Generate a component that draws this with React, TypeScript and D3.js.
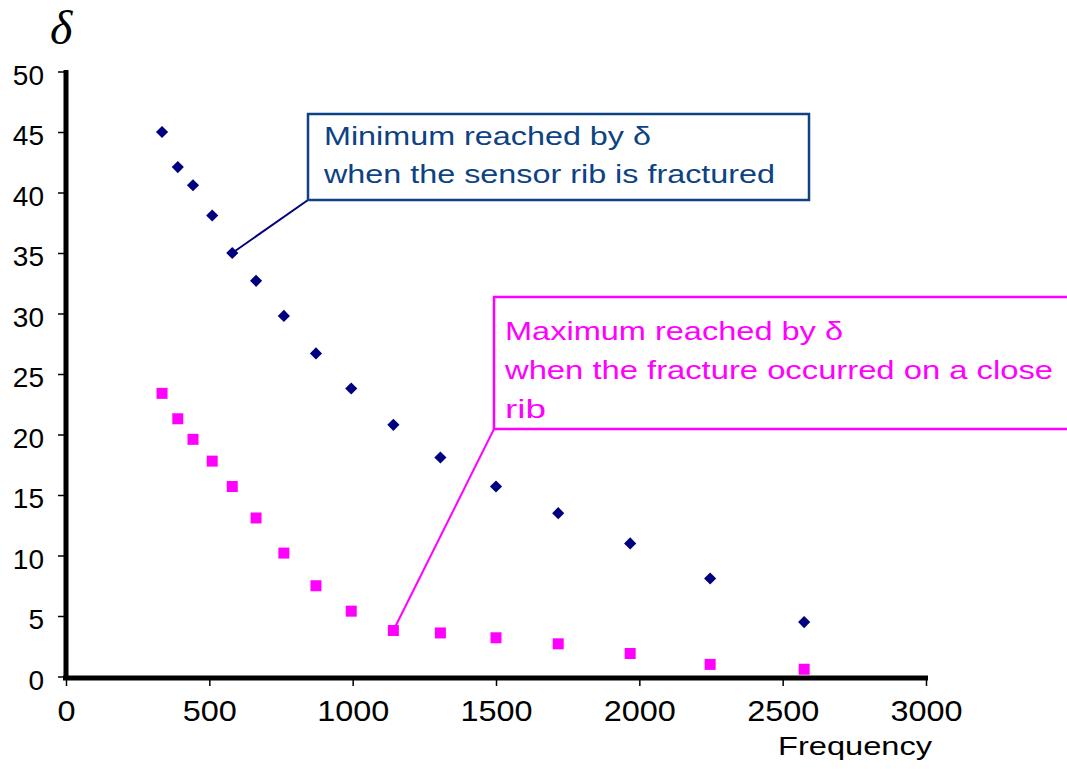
import * as d3 from "d3";
import { useEffect, useRef } from "react";

// values
const frequency = [335, 390, 443, 510, 580, 663, 760, 872, 995, 1142, 1306, 1500, 1717, 1968, 2247, 2575];
const deltaFractured = [45.0, 42.1, 40.6, 38.1, 35.0, 32.7, 29.8, 26.7, 23.8, 20.8, 18.1, 15.7, 13.5, 11.0, 8.1, 4.5];
const deltaCloseRib = [23.4, 21.3, 19.6, 17.8, 15.7, 13.1, 10.2, 7.5, 5.4, 3.8, 3.6, 3.2, 2.7, 1.9, 1.0, 0.6];
const xTicks = [0, 500, 1000, 1500, 2000, 2500, 3000];
const yTicks = [0, 5, 10, 15, 20, 25, 30, 35, 40, 45, 50];

const minLines = ["Minimum reached by δ", "when the sensor rib is fractured"];
const maxLines = ["Maximum reached by δ", "when the fracture occurred on a close", "rib"];

const W = 1067;
const H = 769;
const font = "'Liberation Sans', Arial, sans-serif";

export default function App() {
    const svgRef = useRef<SVGSVGElement>(null);

    useEffect(() => {
        if (svgRef.current) drawChart();
    }, []);

    const drawChart = () => {
        const svg = d3.select(svgRef.current);
        svg.selectAll("*").remove();

        const x = d3.scaleLinear().domain([0, 3000]).range([66, 926]);
        const y = d3.scaleLinear().domain([0, 50]).range([676.5, 71.5]);

        // y axis
        const yAxis = svg
            .append("g")
            .attr("transform", "translate(66,0)")
            .call(
                d3
                    .axisLeft(y)
                    .tickValues(yTicks)
                    .tickFormat((d) => `${d}`)
                    .tickSizeInner(8)
                    .tickSizeOuter(0)
                    .tickPadding(14)
            );
        yAxis.select(".domain").attr("stroke", "#000").attr("stroke-width", 5).attr("d", "M0,70V680");
        yAxis.selectAll(".tick line").attr("stroke", "#000").attr("stroke-width", 1.5);
        yAxis
            .selectAll(".tick text")
            .attr("fill", "#000")
            .attr("font-family", font)
            .attr("font-size", 28)
            .attr("transform", "translate(0,4)");

        // x axis
        const xAxis = svg
            .append("g")
            .attr("transform", "translate(0,678)")
            .call(
                d3
                    .axisBottom(x)
                    .tickValues(xTicks)
                    .tickFormat((d) => `${d}`)
                    .tickSizeInner(8)
                    .tickSizeOuter(0)
                    .tickPadding(14)
            );
        xAxis.select(".domain").attr("stroke", "#000").attr("stroke-width", 5).attr("d", "M63,0H928");
        xAxis.selectAll(".tick line").attr("stroke", "#000").attr("stroke-width", 1.5);
        xAxis
            .selectAll(".tick text")
            .attr("fill", "#000")
            .attr("font-family", font)
            .attr("font-size", 30)
            .attr("transform", "scale(1.08,1)");

        svg.append("text")
            .attr("x", 778)
            .attr("y", 755)
            .attr("font-family", font)
            .attr("font-size", 25)
            .attr("textLength", 154)
            .attr("lengthAdjust", "spacingAndGlyphs")
            .text("Frequency");

        svg.append("text")
            .attr("x", 50)
            .attr("y", 44)
            .attr("font-family", "'Liberation Serif', 'Times New Roman', serif")
            .attr("font-style", "italic")
            .attr("font-size", 48)
            .text("δ");

        // leader lines
        const iMin = 4;
        const iMax = 9;
        svg.append("line")
            .attr("x1", 308).attr("y1", 200)
            .attr("x2", x(frequency[iMin])).attr("y2", y(deltaFractured[iMin]))
            .attr("stroke", "#000080").attr("stroke-width", 2);
        svg.append("line")
            .attr("x1", 494).attr("y1", 429)
            .attr("x2", x(frequency[iMax])).attr("y2", y(deltaCloseRib[iMax]))
            .attr("stroke", "#ff00ff").attr("stroke-width", 2);

        // markers
        const diamond = d3.symbol().type(d3.symbolSquare).size(74);
        svg.append("g")
            .selectAll("path")
            .data(deltaFractured)
            .join("path")
            .attr("d", diamond)
            .attr("transform", (d, i) => `translate(${x(frequency[i])},${y(d)}) rotate(45)`)
            .attr("fill", "#000080");

        svg.append("g")
            .selectAll("rect")
            .data(deltaCloseRib)
            .join("rect")
            .attr("x", (d, i) => x(frequency[i]) - 5.5)
            .attr("y", (d) => y(d) - 5.5)
            .attr("width", 11)
            .attr("height", 11)
            .attr("fill", "#ff00ff");

        // callout: minimum
        svg.append("rect")
            .attr("x", 308).attr("y", 114).attr("width", 501).attr("height", 86)
            .attr("fill", "#fff").attr("stroke", "#0d4283").attr("stroke-width", 2.5);
        const minWidths = [327, 451];
        svg.append("g")
            .selectAll("text")
            .data(minLines)
            .join("text")
            .attr("x", 324)
            .attr("y", (d, i) => 145 + i * 38)
            .attr("font-family", font)
            .attr("font-size", 25)
            .attr("fill", "#0d4283")
            .attr("textLength", (d, i) => minWidths[i])
            .attr("lengthAdjust", "spacingAndGlyphs")
            .text((d) => d);

        // callout: maximum
        svg.append("rect")
            .attr("x", 494).attr("y", 297).attr("width", 600).attr("height", 132)
            .attr("fill", "#fff").attr("stroke", "#ff00ff").attr("stroke-width", 2.5);
        const maxWidths = [338, 548, 41];
        svg.append("g")
            .selectAll("text")
            .data(maxLines)
            .join("text")
            .attr("x", 505)
            .attr("y", (d, i) => 340 + i * 39)
            .attr("font-family", font)
            .attr("font-size", 25)
            .attr("fill", "#ff00ff")
            .attr("textLength", (d, i) => maxWidths[i])
            .attr("lengthAdjust", "spacingAndGlyphs")
            .text((d) => d);
    };

    return (
        <svg
            ref={svgRef}
            width={W}
            height={H}
            style={{ position: "absolute", left: 0, top: 0, background: "#fff" }}
        />
    );
}
